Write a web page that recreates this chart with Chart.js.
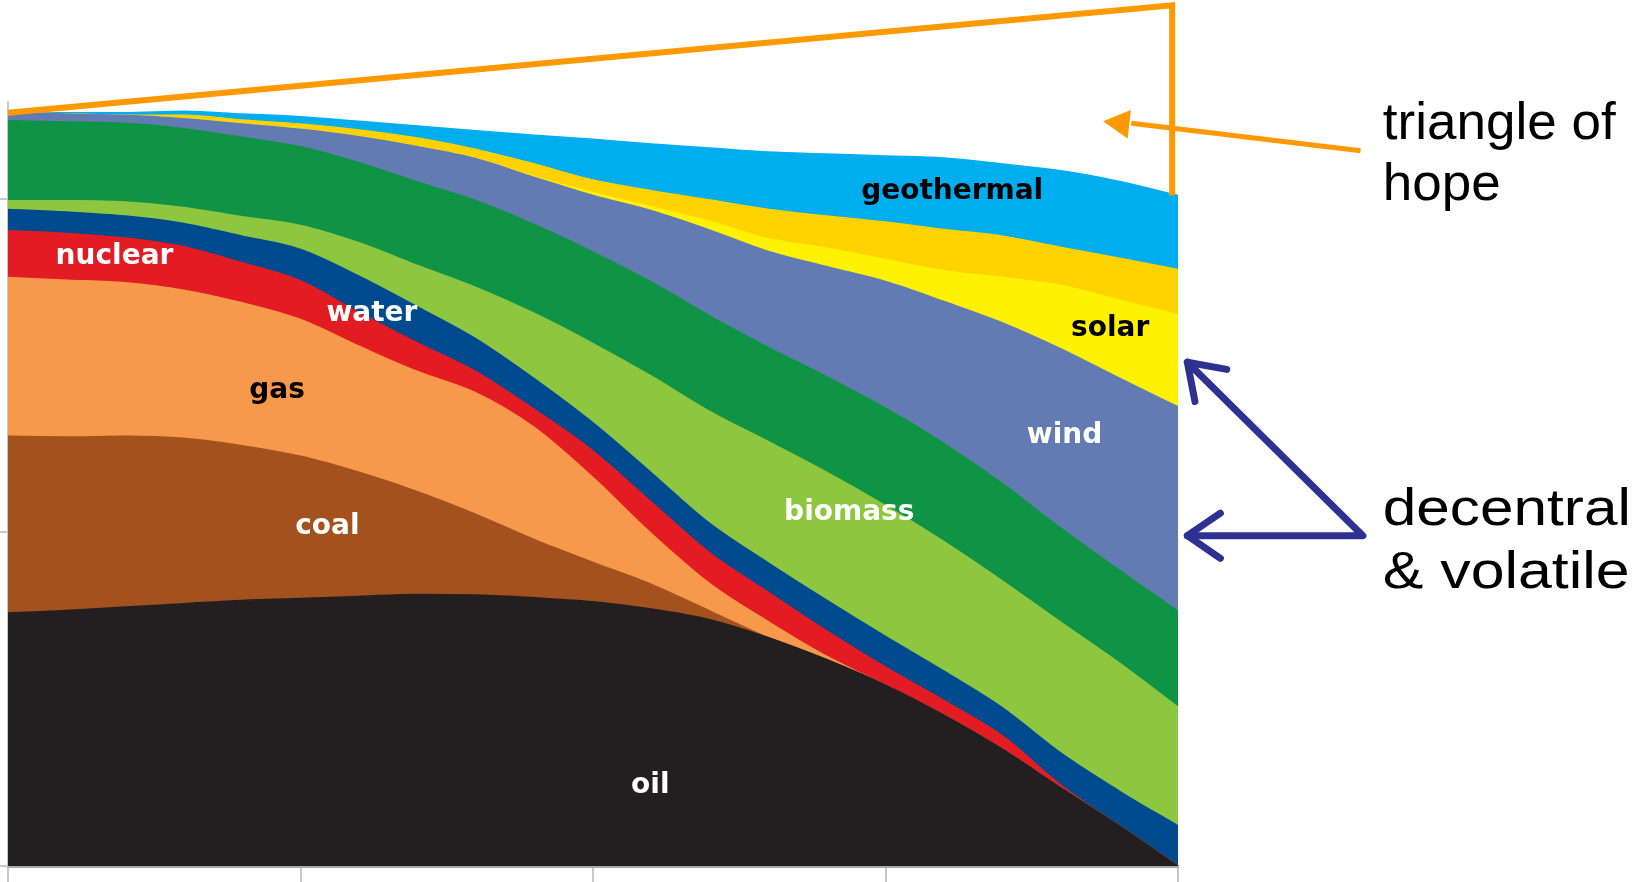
<!DOCTYPE html>
<html>
<head>
<meta charset="utf-8">
<script src="https://cdn.jsdelivr.net/npm/chart.js@4.4.1/dist/chart.umd.min.js"></script>
<style>
  html, body { margin: 0; padding: 0; background: #fff; }
  #wrap { width: 1651px; height: 882px; position: relative; }
</style>
</head>
<body>
<div id="wrap"><canvas id="energyChart"></canvas></div>
<script>
// years on the x axis (no labels are shown in the picture)
let years = [2000, 2005, 2010, 2015, 2020, 2025, 2030, 2035, 2040, 2045, 2050,
             2055, 2060, 2065, 2070, 2075, 2080, 2085, 2090, 2095, 2100]

// layer sizes, bottom to top
let oil          = [379, 383, 388, 393, 398, 401, 404, 407, 406, 402, 396, 385, 369, 342, 309, 271, 226, 175, 117, 60, 0]
let coal         = [265, 260, 256, 248, 232, 213, 186, 154, 121, 87, 59, 37, 13, 0, 0, 0, 0, 0, 0, 0, 0]
let gas          = [238, 235, 230, 222, 214, 205, 189, 180, 182, 168, 127, 76, 41, 24, 5, 0, 0, 0, 0, 0, 0]
let nuclear      = [70, 70, 67, 65, 60, 58, 50, 43, 32, 27, 40, 47, 46, 44, 38, 27, 22, 20, 4, 0, 0]
let water        = [32, 32, 33, 35, 40, 47, 55, 54, 49, 46, 42, 44, 44, 44, 46, 46, 44, 42, 48, 52, 60]
let biomass      = [13, 17, 21, 24, 29, 36, 50, 62, 77, 98, 119, 145, 168, 182, 192, 196, 194, 190, 196, 192, 178]
let biomassAdv   = [120, 118, 118, 118, 119, 118, 120, 125, 130, 133, 137, 141, 143, 141, 143, 146, 147, 146, 141, 139, 144]
let wind         = [12, 12, 12, 15, 20, 26, 39, 53, 63, 71, 85, 107, 129, 144, 165, 190, 213, 241, 269, 288, 306]
let solar        = [0, 0, 0, 0, 0, 0, 0, 0, 0, 1, 4, 6, 13, 19, 28, 33, 46, 68, 95, 117, 138]
let solarThermal = [0, 0, 0, 5, 6, 8, 10, 13, 14, 19, 19, 24, 32, 44, 48, 56, 62, 62, 57, 63, 68]
let geothermal   = [0, 2, 4, 6, 9, 11, 13, 18, 28, 43, 61, 70, 78, 86, 93, 99, 107, 108, 115, 115, 111]

let yTicks = [0, 500, 1000]

let layers = [
  ['oil', oil, '#231f20'],
  ['coal', coal, '#a3521d'],
  ['gas', gas, '#f7994a'],
  ['nuclear', nuclear, '#e31b23'],
  ['water', water, '#004a8f'],
  ['biomass', biomass, '#8dc63f'],
  ['biomass (advanced)', biomassAdv, '#0e9444'],
  ['wind', wind, '#627bb2'],
  ['solar', solar, '#fff200'],
  ['solar thermal', solarThermal, '#ffd200'],
  ['geothermal', geothermal, '#00aeef']
]

// text inside the bands, placed in data units (year, value)
let bandLabels = [
  { text: 'nuclear',    x: 2009.1, y: 913, color: '#fff' },
  { text: 'water',      x: 2031.1, y: 828, color: '#fff' },
  { text: 'gas',        x: 2023.0, y: 712, color: '#000' },
  { text: 'coal',       x: 2027.3, y: 508, color: '#fff' },
  { text: 'oil',        x: 2054.9, y: 120, color: '#fff' },
  { text: 'biomass',    x: 2071.9, y: 530, color: '#fff' },
  { text: 'wind',       x: 2090.3, y: 645, color: '#fff' },
  { text: 'solar',      x: 2094.2, y: 805, color: '#000' },
  { text: 'geothermal', x: 2080.7, y: 1010, color: '#000' }
]

function total(i) {
  let s = 0
  layers.forEach(function(l){ s += l[1][i] })
  return s
}

let datasets = layers.map(function(l, k){
  return {
    label: l[0],
    data: years.map(function(yr, i){ return { x: yr, y: l[1][i] } }),
    backgroundColor: l[2],
    borderColor: l[2],
    borderWidth: 1.5,
    pointRadius: 0,
    fill: k == 0 ? 'origin' : '-1',
    cubicInterpolationMode: 'monotone'
  }
})

function arrowHead(ctx, x1, y1, x2, y2, len, open) {
  let a = Math.atan2(y2 - y1, x2 - x1)
  let s = open ? 0.6 : 0.5
  let ax = x2 - len * Math.cos(a - s), ay = y2 - len * Math.sin(a - s)
  let bx = x2 - len * Math.cos(a + s), by = y2 - len * Math.sin(a + s)
  ctx.beginPath()
  if (open) {
    ctx.moveTo(ax, ay); ctx.lineTo(x2, y2); ctx.lineTo(bx, by)
    ctx.stroke()
  } else {
    ctx.moveTo(x2, y2); ctx.lineTo(ax, ay); ctx.lineTo(bx, by)
    ctx.closePath(); ctx.fill()
  }
}

// wide text, the picture uses a stretched face for these lines
function wideText(ctx, text, x, y, stretch) {
  ctx.save()
  ctx.translate(x, y)
  ctx.scale(stretch, 1)
  ctx.fillText(text, 0, 0)
  ctx.restore()
}

let notes = {
  id: 'notes',
  afterDatasetsDraw(chart) {
    let ctx = chart.ctx, xs = chart.scales.x, ys = chart.scales.y
    ctx.save()
    ctx.font = 'bold 28px "DejaVu Sans"'
    ctx.textAlign = 'center'
    ctx.textBaseline = 'middle'
    bandLabels.forEach(function(l){
      ctx.fillStyle = l.color
      ctx.fillText(l.text, xs.getPixelForValue(l.x), ys.getPixelForValue(l.y))
    })
    ctx.restore()
  },
  afterDraw(chart) {
    let ctx = chart.ctx, xs = chart.scales.x, ys = chart.scales.y
    let X = function(v){ return xs.getPixelForValue(v) }
    let Y = function(v){ return ys.getPixelForValue(v) }
    let last = years.length - 1
    ctx.save()

    // triangle of hope
    ctx.strokeStyle = '#ff9900'
    ctx.fillStyle = '#ff9900'
    ctx.lineWidth = 6
    ctx.beginPath()
    ctx.moveTo(X(years[0]), Y(total(0)))
    ctx.lineTo(X(2099.5), Y(1290))
    ctx.lineTo(X(2099.5), Y(total(last)))
    ctx.stroke()
    ctx.lineWidth = 5
    ctx.beginPath()
    ctx.moveTo(X(2115.6), Y(1072))
    ctx.lineTo(X(2096), Y(1113))
    ctx.stroke()
    arrowHead(ctx, X(2115.6), Y(1072), X(2093.6), Y(1116), 30, false)

    // decentral & volatile arrows
    ctx.strokeStyle = '#2e3192'
    ctx.lineWidth = 7
    ctx.lineCap = 'round'
    ctx.lineJoin = 'round'
    ctx.beginPath()
    ctx.moveTo(X(2100.8), Y(755))
    ctx.lineTo(X(2115.8), Y(495))
    ctx.lineTo(X(2100.8), Y(495))
    ctx.stroke()
    arrowHead(ctx, X(2115.8), Y(495), X(2100.8), Y(755), 40, true)
    arrowHead(ctx, X(2115.8), Y(495), X(2100.8), Y(495), 40, true)

    ctx.fillStyle = '#000'
    ctx.font = '52px "Liberation Sans"'
    ctx.textAlign = 'left'
    ctx.textBaseline = 'alphabetic'
    wideText(ctx, 'triangle of', X(2117.5), Y(1090), 1.02)
    wideText(ctx, 'hope', X(2117.5), Y(998), 1.02)
    wideText(ctx, 'decentral', X(2117.5), Y(511), 1.16)
    wideText(ctx, '& volatile', X(2117.5), Y(417), 1.17)
    ctx.restore()
  }
}

new Chart(document.getElementById('energyChart'), {
  type: 'line',
  data: { datasets: datasets },
  plugins: [notes],
  options: {
    responsive: true,
    maintainAspectRatio: false,
    animation: false,
    layout: { padding: { left: 0, top: 102, right: 473, bottom: 0 } },
    plugins: {
      legend: { display: false },
      tooltip: { enabled: false }
    },
    scales: {
      x: {
        type: 'linear',
        min: years[0],
        max: years[years.length - 1],
        ticks: { display: false, stepSize: 25 },
        grid: { drawOnChartArea: false, drawTicks: true, tickLength: 16, color: '#c8c8c8', lineWidth: 2 },
        border: { display: true, color: '#a9a9a9', width: 3 }
      },
      y: {
        stacked: true,
        min: 0,
        max: 1145,
        afterBuildTicks: function(axis){ axis.ticks = yTicks.map(function(v){ return { value: v } }) },
        ticks: { display: false },
        grid: { drawOnChartArea: false, drawTicks: true, tickLength: 8, color: '#c8c8c8', lineWidth: 2 },
        border: { display: true, color: '#c8c8c8', width: 2 }
      }
    }
  }
})
</script>
</body>
</html>
